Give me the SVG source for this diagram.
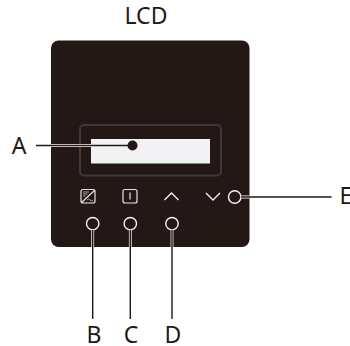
<svg xmlns="http://www.w3.org/2000/svg" width="350" height="346" viewBox="0 0 350 346">
<style>
.t{font-family:"Noto Sans","Open Sans",sans-serif;font-size:23px;fill:#231815}
.ic{fill:none;stroke:#e6e4e3;stroke-width:1.2;stroke-linejoin:round}
.ic2{fill:none;stroke:#e6e4e3;stroke-width:0.7}
.ch{fill:none;stroke:#f0eeee;stroke-width:1.4}
.ring{fill:none;stroke:#f4f3f3;stroke-width:1.4}
.halo{stroke:#f4f3f3;stroke-width:2.8;fill:none}
.ln{stroke:#231815;stroke-width:1.4;fill:none}
</style>
<rect width="350" height="346" fill="#fff"/>
<g id="panel">
<rect x="51" y="40.500" width="198.500" height="206.500" rx="7.500" fill="#231815"/>
<rect x="80" y="125" width="141" height="50.500" rx="4" fill="none" stroke="#3e3a39" stroke-width="2"/>
<rect x="91" y="139" width="119" height="24.500" fill="#f2f2f4"/>
</g>
<g id="btn-b">
<rect x="81" y="189.500" width="14" height="13.500" rx="2" class="ic"/>
<path d="M81.500 202.500L95 190" class="ic"/>
<path d="M83 192H89M83 194H87.500M83 196H85.500M87 200q1.500-2 3 0t3 0" class="ic2"/>
<circle cx="92.700" cy="223.700" r="6.200" class="ring"/>
</g>
<g id="btn-c">
<rect x="123" y="189.500" width="14" height="13.500" rx="2" class="ic"/>
<path d="M130 192.500V199.500" class="ic"/>
<circle cx="130.300" cy="223.700" r="6.200" class="ring"/>
</g>
<g id="btn-d">
<path d="M164.500 200L171.500 193L178.500 200" class="ch"/>
<circle cx="172" cy="223.700" r="6.200" class="ring"/>
</g>
<g id="btn-e">
<path d="M206 193L213 200L220 193" class="ch"/>
<circle cx="234.700" cy="197" r="6.200" class="ring"/>
</g>
<g id="connectors">
<path d="M51 145.500H132" class="halo"/>
<path d="M36 145.500H132" class="ln"/>
<circle cx="132.500" cy="145.500" r="5" fill="#231815"/>
<path d="M92.700 230V247M130.300 230V247M172 230V247M241 197H249.500" class="halo"/>
<path d="M92.700 230V319M130.300 230V319M172 230V319M241 197H331.500" class="ln"/>
</g>
<g id="labels">
<text class="t" x="146" y="24" text-anchor="middle">LCD</text>
<text class="t" x="19" y="154" text-anchor="middle">A</text>
<text class="t" x="94" y="342.500" text-anchor="middle">B</text>
<text class="t" x="131" y="342.500" text-anchor="middle">C</text>
<text class="t" x="173" y="342.500" text-anchor="middle">D</text>
<text class="t" x="339.500" y="204">E</text>
</g>
</svg>
